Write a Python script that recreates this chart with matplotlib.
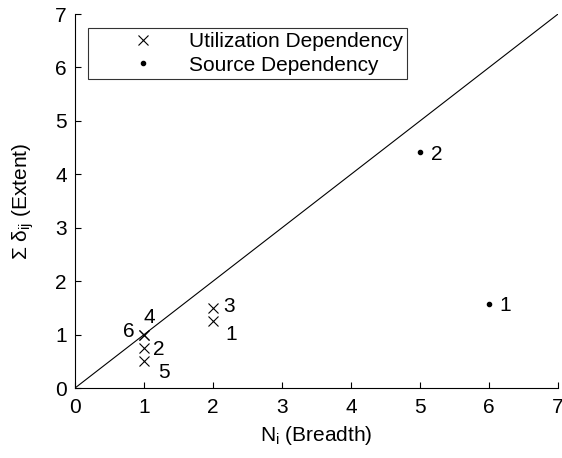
import matplotlib
matplotlib.use('Agg')
import matplotlib.pyplot as plt
import numpy as np

plt.rcParams['font.family'] = ['Liberation Sans', 'DejaVu Sans']
plt.rcParams['mathtext.fontset'] = 'custom'
plt.rcParams['mathtext.rm'] = 'Liberation Sans'
plt.rcParams['mathtext.it'] = 'Liberation Sans'
plt.rcParams['mathtext.sf'] = 'Liberation Sans'

## data
util_x = [2, 1, 2, 1, 1, 1]
util_y = [1.25, 0.75, 1.5, 1.0, 0.5, 1.0]
util_lbl = ['1', '2', '3', '4', '5', '6']

src_x = [6, 5]
src_y = [1.57, 4.42]
src_lbl = ['1', '2']

# label offsets (points) for each point
util_off = [(13, -9.4), (10.8, -1.4), (11.5, 0.7), (3.6, 12.2), (14.4, -7.9), (-10.8, 2.2)]
src_off = [(11.5, -0.7), (12.2, -2.2)]

fs = 15

fig = plt.figure(figsize=(5.62, 4.58), dpi=100)
ax = fig.add_axes([0.1335, 0.1528, 0.8595, 0.8166])

ax.plot([0, 7], [0, 7], '-', color='black', linewidth=0.8, zorder=1)
ax.plot(util_x, util_y, 'x', color='black', markersize=7.5, markeredgewidth=0.8,
        linestyle='none', label='Utilization Dependency')
ax.plot(src_x, src_y, 'o', color='black', markersize=3,
        linestyle='none', label='Source Dependency')

for x, y, t, o in zip(util_x, util_y, util_lbl, util_off):
  ax.annotate(t, (x, y), xytext=o, textcoords='offset points',
              ha='center', va='center', fontsize=fs)
for x, y, t, o in zip(src_x, src_y, src_lbl, src_off):
  ax.annotate(t, (x, y), xytext=o, textcoords='offset points',
              ha='center', va='center', fontsize=fs)

ax.set_xlim(0, 7)
ax.set_ylim(0, 7)
ax.set_xticks(range(8))
ax.set_yticks(range(8))
ax.tick_params(direction='in', length=4, width=0.8, labelsize=fs,
               top=False, right=False)
ax.tick_params(axis='x', pad=7.5)
ax.tick_params(axis='y', pad=5.8)
ax.spines['top'].set_visible(False)
ax.spines['right'].set_visible(False)
for s in ['left', 'bottom']:
  ax.spines[s].set_linewidth(0.8)

ax.set_xlabel(r'N$_\mathregular{i}$ (Breadth)', fontsize=fs, labelpad=4.5)
ax.set_ylabel(r'$\mathregular{\Sigma\ \delta_{ij}}$ (Extent)', fontsize=fs, labelpad=14)

leg = ax.legend(loc='upper left', bbox_to_anchor=(0.0269, 0.9626), fontsize=fs,
                frameon=True, fancybox=False, edgecolor='black',
                borderpad=0.2, handlelength=4.86, handletextpad=-0.2,
                labelspacing=0.21, borderaxespad=0)
leg.get_frame().set_linewidth(0.8)

fig.savefig('out.png', dpi=100)
